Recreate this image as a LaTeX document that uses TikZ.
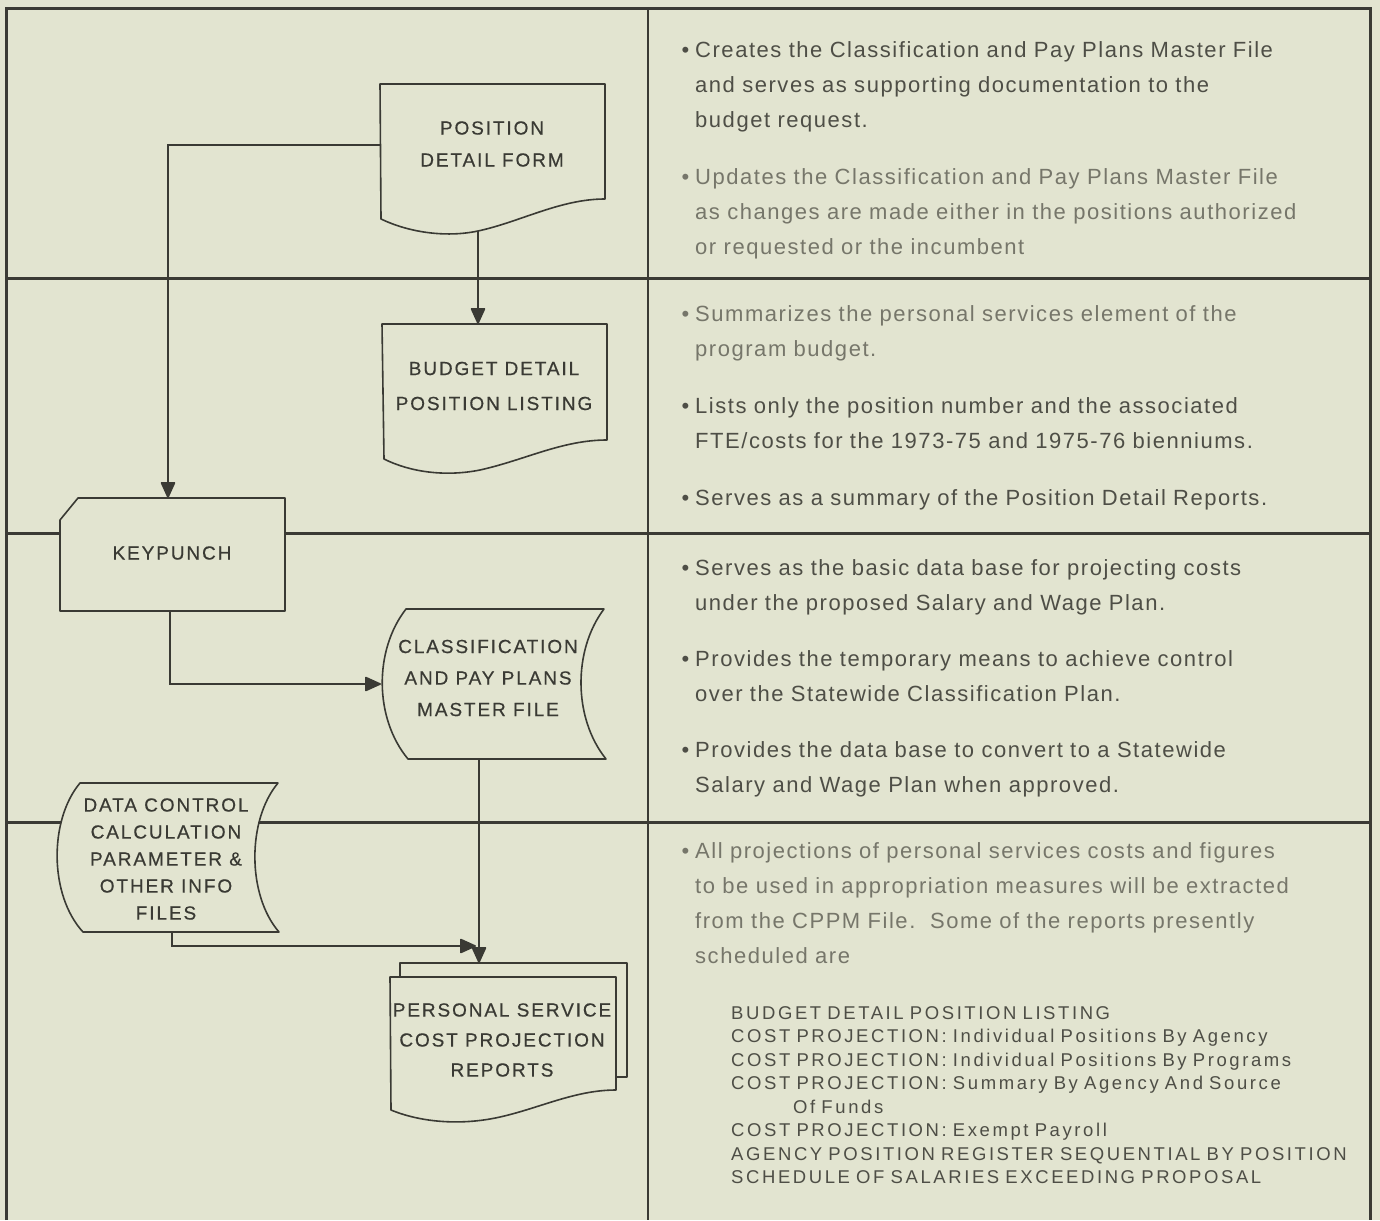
\documentclass[tikz,border=0pt]{standalone}
\usepackage{fontspec}
\setmainfont{Liberation Sans}
\newfontfamily\boxfont[LetterSpace=10,FakeBold=0.5]{Liberation Sans}
\newfontfamily\notefont[LetterSpace=7,WordSpace=3.4]{Liberation Sans}
\newfontfamily\listfont[LetterSpace=14,WordSpace=2.5]{Liberation Sans}
\usetikzlibrary{arrows.meta}

\definecolor{paper}{RGB}{226,228,208}
\definecolor{ink}{RGB}{58,58,52}
\definecolor{note}{RGB}{78,78,70}
\definecolor{faint}{RGB}{118,118,106}

\tikzset{
  frame/.style={draw=ink, line width=3pt},
  symb/.style={draw=ink, line width=1.6pt, fill=paper, line join=round},
  flow/.style={draw=ink, line width=1.5pt, -{Triangle[length=17pt,width=15pt,round]}},
  boxtxt/.style={text=ink, align=center, inner sep=0pt},
  notetxt/.style={font=\notefont\fontsize{22}{35}\selectfont, text=note, text width=670pt,
    align=left, anchor=base west, inner sep=0pt},
  listtxt/.style={font=\listfont\fontsize{18.5}{23.5}\selectfont, text=note, text width=670pt,
    align=left, anchor=base west, inner sep=0pt},
}
\newcommand{\bul}{\llap{\textbullet\hspace{6pt}}}

\begin{document}
\begin{tikzpicture}[x=1pt,y=-1pt]
  \useasboundingbox[fill=paper] (0,0) rectangle (1380,1220);

  % table frame
  \draw[frame] (6,1220) -- (6,9) -- (1370,9) -- (1370,1220);
  \foreach \y in {278,533,822}
    \draw[frame] (6,\y) -- (1370,\y);
  \draw[frame, line width=2.2pt] (648,9) -- (648,1220);

  % flowchart symbols
  \draw[symb] (380,84) -- (605,84) -- (605,199)
    .. controls (560,199) and (520,222) .. (478,231)
    .. controls (445,238) and (408,232) .. (381,219) -- cycle;
  \draw[symb] (382,324) -- (607,324) -- (607,440)
    .. controls (562,440) and (525,460) .. (480,470)
    .. controls (445,477) and (410,472) .. (384,459) -- cycle;
  \draw[symb] (60,520) -- (78,498) -- (285,498) -- (285,611) -- (60,611) -- cycle;
  \draw[symb] (406,609) -- (604,609) .. controls (573,650) and (573,718) .. (606,759)
    -- (408,759) .. controls (374,718) and (374,650) .. (406,609) -- cycle;
  \draw[symb] (80,783) -- (278,783) .. controls (247,820) and (247,895) .. (279,932)
    -- (83,932) .. controls (49,895) and (49,820) .. (80,783) -- cycle;
  \draw[symb] (400,963) rectangle (627,1077);
  \draw[symb] (390,977) -- (616,977) -- (616,1090)
    .. controls (575,1090) and (540,1108) .. (500,1117)
    .. controls (460,1126) and (420,1122) .. (391,1110) -- cycle;

  % labels
  \node[boxtxt, font=\boxfont\fontsize{19}{32}\selectfont] (pdf) at (492,144) {POSITION\\DETAIL FORM};
  \node[boxtxt, font=\boxfont\fontsize{19}{35}\selectfont] (bdl) at (494,386) {BUDGET DETAIL\\POSITION LISTING};
  \node[boxtxt, font=\boxfont\fontsize{19}{32}\selectfont] (kp) at (172,553) {KEYPUNCH};
  \node[boxtxt, font=\boxfont\fontsize{19}{31.5}\selectfont] (cppm) at (488,678) {CLASSIFICATION\\AND PAY PLANS\\MASTER FILE};
  \node[boxtxt, font=\boxfont\fontsize{19}{27}\selectfont] (dcf) at (166,859) {DATA CONTROL\\CALCULATION\\PARAMETER \&\\OTHER INFO\\FILES};
  \node[boxtxt, font=\boxfont\fontsize{19}{30}\selectfont] (rep) at (502,1040) {PERSONAL SERVICE\\COST PROJECTION\\REPORTS};

  % connectors
  \coordinate (pdf-w) at (380,145);
  \coordinate (pdf-s) at (478,231);
  \coordinate (bdl-n) at (478,324);
  \coordinate (kp-n) at (168,498);
  \coordinate (kp-s) at (170,611);
  \coordinate (cppm-w) at (381,684);
  \coordinate (cppm-s) at (479,759);
  \coordinate (rep-n) at (479,963);
  \coordinate (dcf-s) at (172,932);
  \coordinate (rep-w) at (476,946);
  \draw[flow] (pdf-w) -| (kp-n);
  \draw[flow] (pdf-s) -- (bdl-n);
  \draw[flow] (kp-s) |- (cppm-w);
  \draw[flow] (cppm-s) -- (rep-n);
  \draw[flow] (dcf-s) |- (rep-w);

  % notes, right column
  \node[notetxt] (n1a) at (695,58) {\bul Creates the Classification and Pay Plans Master File\\
    and serves as supporting documentation to the\\budget request.};
  \node[notetxt, text=faint] (n1b) at (695,184) {\bul Updates the Classification and Pay Plans Master File\\
    as changes are made either in the positions authorized\\or requested or the incumbent};
  \node[notetxt, text=faint] (n2a) at (695,321) {\bul Summarizes the personal services element of the\\program budget.};
  \node[notetxt] (n2b) at (695,413) {\bul Lists only the position number and the associated\\
    FTE/costs for the 1973-75 and 1975-76 bienniums.};
  \node[notetxt] (n2c) at (695,505) {\bul Serves as a summary of the Position Detail Reports.};
  \node[notetxt] (n3a) at (695,575) {\bul Serves as the basic data base for projecting costs\\
    under the proposed Salary and Wage Plan.};
  \node[notetxt] (n3b) at (695,666) {\bul Provides the temporary means to achieve control\\
    over the Statewide Classification Plan.};
  \node[notetxt] (n3c) at (695,757) {\bul Provides the data base to convert to a Statewide\\
    Salary and Wage Plan when approved.};
  \node[notetxt, text=faint] (n4a) at (695,858) {\bul All projections of personal services costs and figures\\
    to be used in appropriation measures will be extracted\\
    from the CPPM File.\ \ Some of the reports presently\\scheduled are};
  \node[listtxt] (rlist) at (731,1019) {BUDGET DETAIL POSITION LISTING\\
    COST PROJECTION: Individual Positions By Agency\\
    COST PROJECTION: Individual Positions By Programs\\
    COST PROJECTION: Summary By Agency And Source\\
    \hspace*{62pt}Of Funds\\
    COST PROJECTION: Exempt Payroll\\
    AGENCY POSITION REGISTER SEQUENTIAL BY POSITION\\
    SCHEDULE OF SALARIES EXCEEDING PROPOSAL};
\end{tikzpicture}
\end{document}
